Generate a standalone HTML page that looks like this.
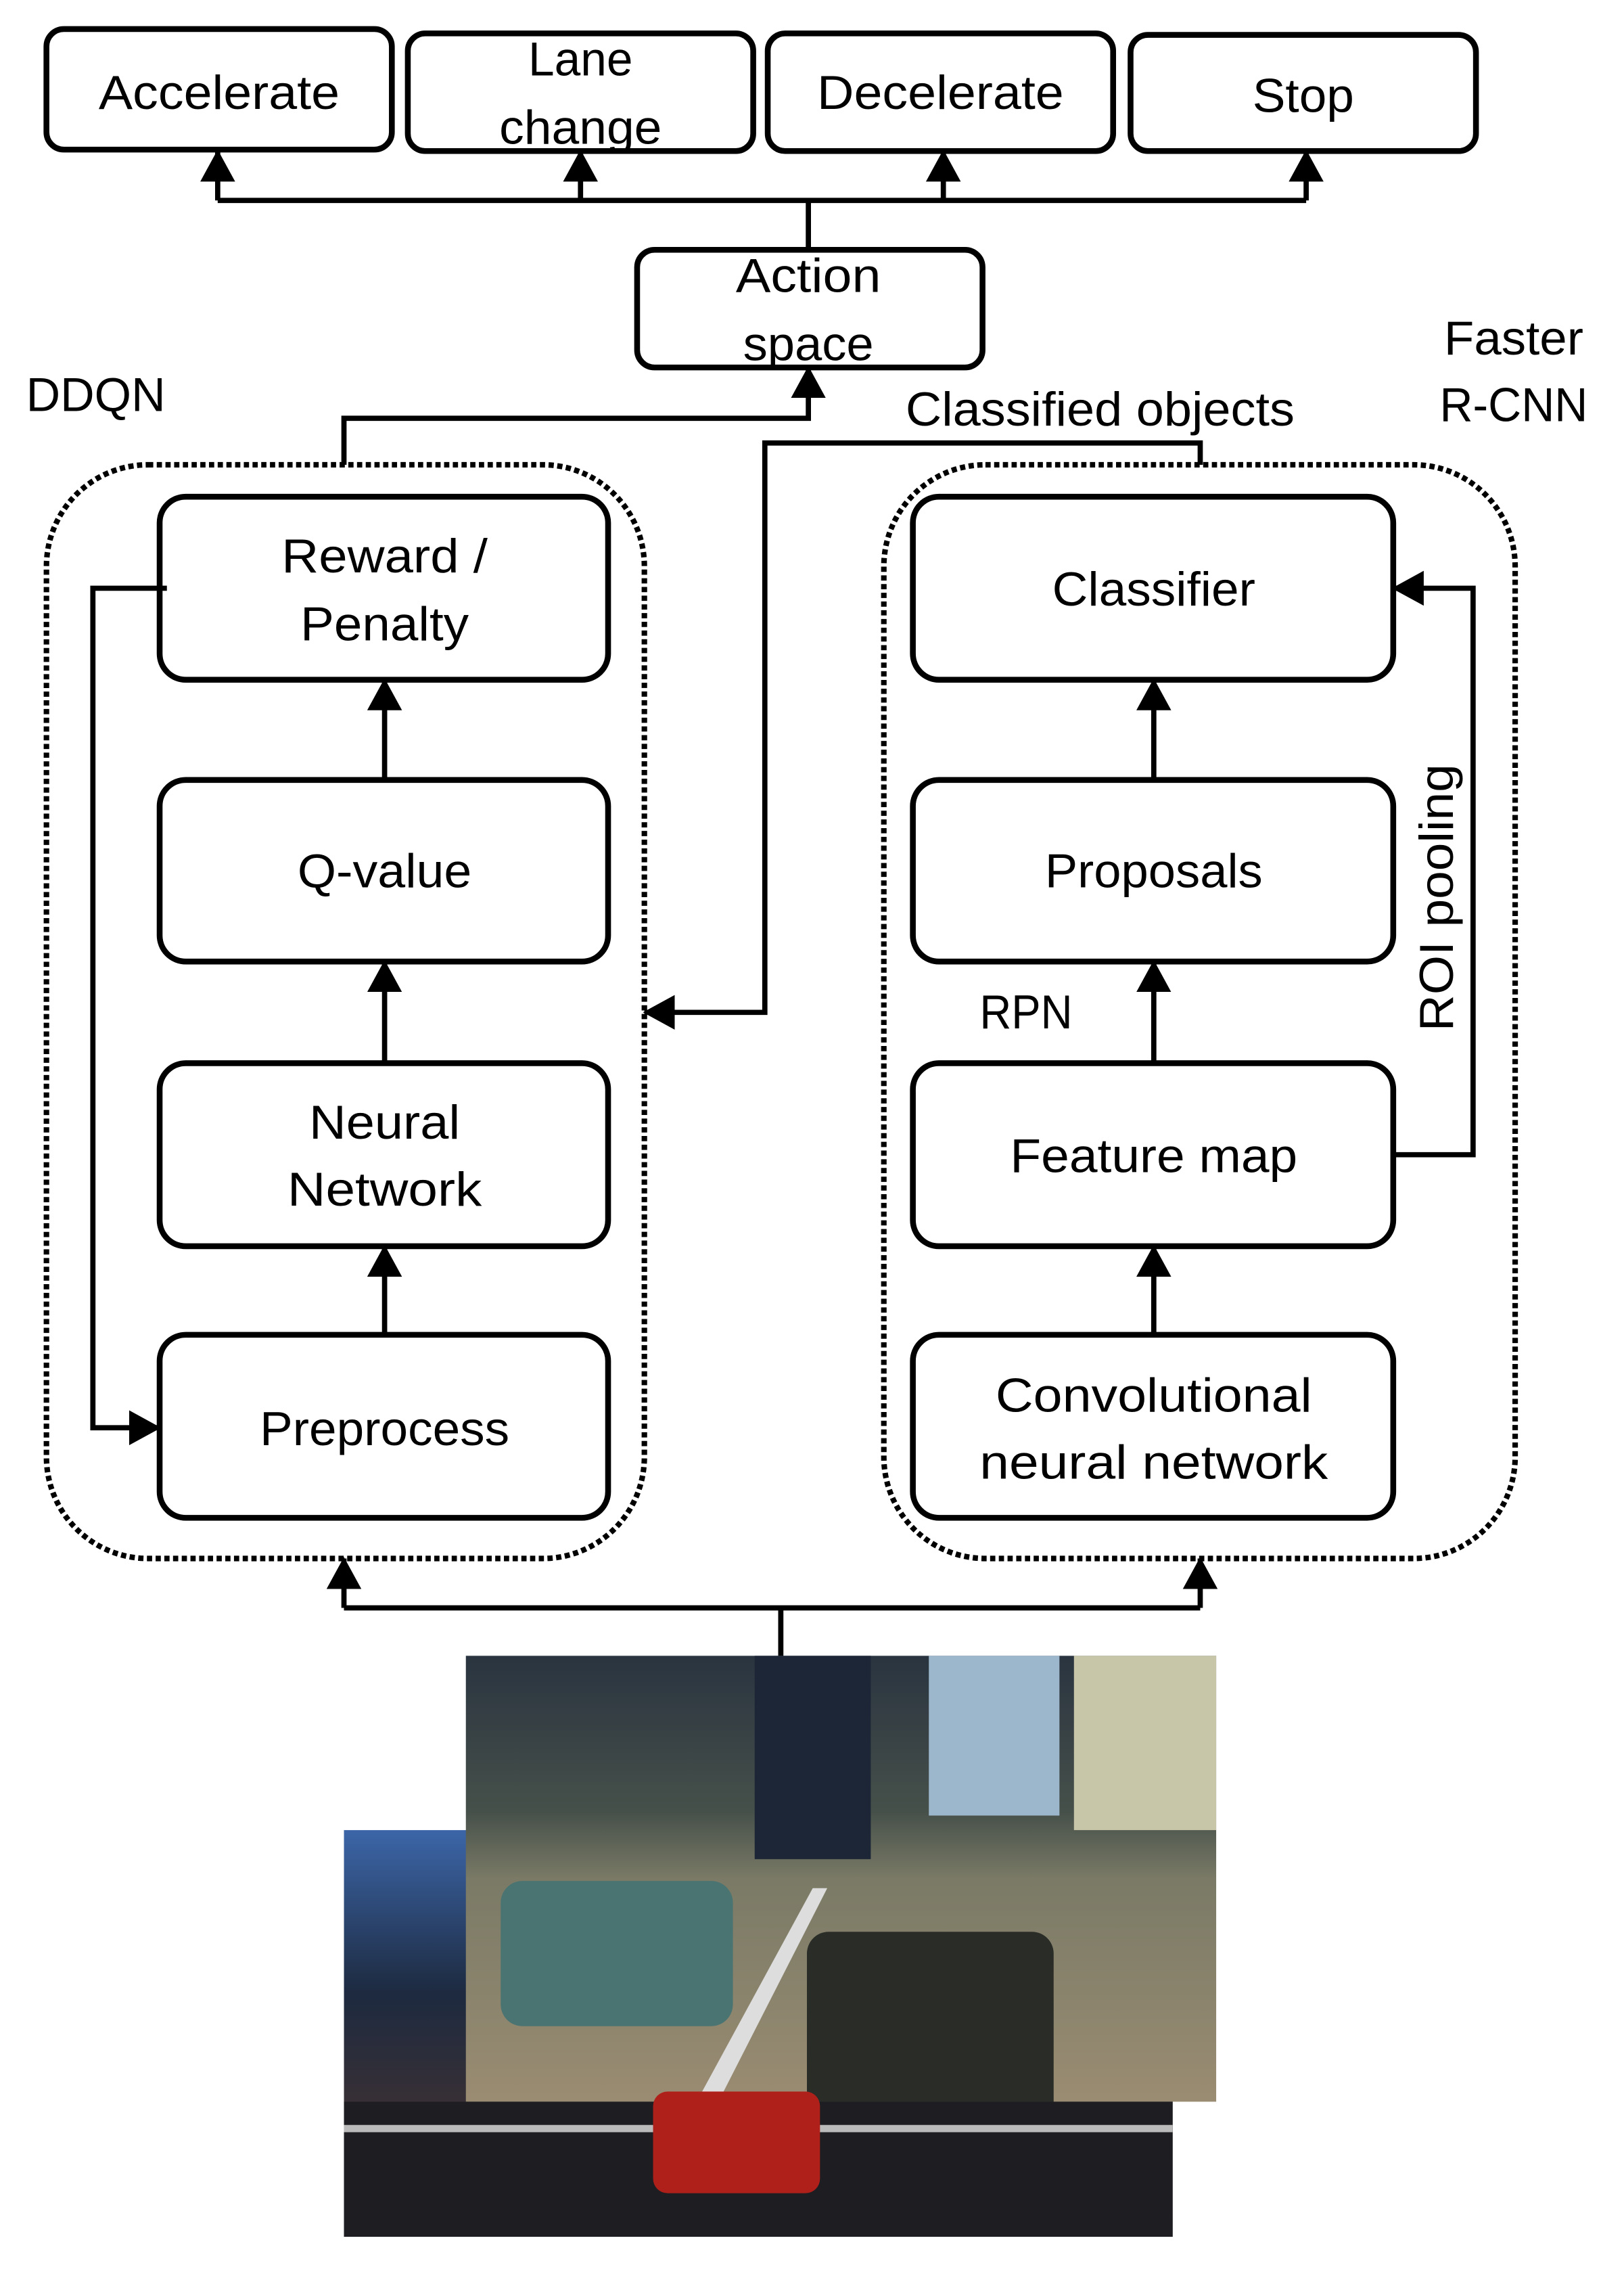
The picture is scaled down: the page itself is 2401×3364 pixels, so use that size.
<!DOCTYPE html>
<html><head><meta charset="utf-8"><style>
html,body{margin:0;padding:0;background:#fff}
svg{display:block}
text{font-family:"Liberation Sans",sans-serif;fill:#000}
</style></head><body>
<svg width="2401" height="3364" viewBox="0 0 1119 1567" preserveAspectRatio="none" xmlns="http://www.w3.org/2000/svg">
<defs>
<marker id="b" markerWidth="22" markerHeight="24" refX="21" refY="12" orient="auto" markerUnits="userSpaceOnUse">
<path d="M0,0 L22,12 L0,24 z" fill="#000"/></marker>
<linearGradient id="g1" x1="0" y1="0" x2="0" y2="1">
<stop offset="0" stop-color="#2a3440"/><stop offset="0.35" stop-color="#46504a"/><stop offset="0.5" stop-color="#7a7a66"/><stop offset="1" stop-color="#9a8c72"/></linearGradient>
<linearGradient id="g2" x1="0" y1="0" x2="0" y2="1">
<stop offset="0" stop-color="#3c66a8"/><stop offset="0.4" stop-color="#1d2a40"/><stop offset="0.7" stop-color="#3a3034"/><stop offset="1" stop-color="#202024"/></linearGradient>
</defs>
<g fill="none" stroke="#000" stroke-width="4">
<rect x="32" y="20" width="238" height="83" rx="12"/>
<rect x="281" y="23" width="238" height="81" rx="12"/>
<rect x="529" y="23" width="238" height="81" rx="12"/>
<rect x="779" y="24" width="238" height="80" rx="12"/>
<rect x="439" y="172" width="238" height="81" rx="12"/>
<rect x="110" y="342" width="309" height="126" rx="18"/>
<rect x="110" y="537" width="309" height="125" rx="18"/>
<rect x="110" y="732" width="309" height="126" rx="18"/>
<rect x="110" y="919" width="309" height="126" rx="18"/>
<rect x="629" y="342" width="331" height="126" rx="18"/>
<rect x="629" y="537" width="331" height="125" rx="18"/>
<rect x="629" y="732" width="331" height="126" rx="18"/>
<rect x="629" y="919" width="331" height="126" rx="18"/>
</g>
<g fill="none" stroke="#000" stroke-width="3.8" stroke-dasharray="3.6,2.4">
<rect x="32" y="320" width="412" height="753" rx="70"/>
<rect x="609" y="320" width="435" height="753" rx="70"/>
</g>
<g fill="none" stroke="#000" stroke-width="3.6">
<path d="M150,138 H900 M557,138 V172"/>
<path d="M150,138 V104" marker-end="url(#b)"/>
<path d="M400,138 V104" marker-end="url(#b)"/>
<path d="M650,138 V104" marker-end="url(#b)"/>
<path d="M900,138 V104" marker-end="url(#b)"/>
<path d="M237,320 V288 H557 V253" marker-end="url(#b)"/>
<path d="M827,320 V305 H527 V697 H444" marker-end="url(#b)"/>
<path d="M265,537 V468" marker-end="url(#b)"/>
<path d="M265,732 V662" marker-end="url(#b)"/>
<path d="M265,919 V858" marker-end="url(#b)"/>
<path d="M795,537 V468" marker-end="url(#b)"/>
<path d="M795,732 V662" marker-end="url(#b)"/>
<path d="M795,919 V858" marker-end="url(#b)"/>
<path d="M115,405 H64 V983 H110" marker-end="url(#b)"/>
<path d="M960,795 H1015 V405 H960" marker-end="url(#b)"/>
<path d="M538,1140 V1107 M237,1107 H827"/>
<path d="M237,1107 V1073" marker-end="url(#b)"/>
<path d="M827,1107 V1073" marker-end="url(#b)"/>
</g>
<g font-size="33" text-anchor="middle">
<text x="151" y="75" textLength="166" lengthAdjust="spacingAndGlyphs">Accelerate</text>
<text x="400" y="52" textLength="72" lengthAdjust="spacingAndGlyphs">Lane</text>
<text x="400" y="99" textLength="112" lengthAdjust="spacingAndGlyphs">change</text>
<text x="648" y="75" textLength="170" lengthAdjust="spacingAndGlyphs">Decelerate</text>
<text x="898" y="77" textLength="70" lengthAdjust="spacingAndGlyphs">Stop</text>
<text x="557" y="201" textLength="100" lengthAdjust="spacingAndGlyphs">Action</text>
<text x="557" y="248" textLength="90" lengthAdjust="spacingAndGlyphs">space</text>
<text x="265" y="394" textLength="142" lengthAdjust="spacingAndGlyphs">Reward /</text>
<text x="265" y="441" textLength="116" lengthAdjust="spacingAndGlyphs">Penalty</text>
<text x="265" y="611" textLength="120" lengthAdjust="spacingAndGlyphs">Q-value</text>
<text x="265" y="784" textLength="104" lengthAdjust="spacingAndGlyphs">Neural</text>
<text x="265" y="830" textLength="134" lengthAdjust="spacingAndGlyphs">Network</text>
<text x="265" y="995" textLength="172" lengthAdjust="spacingAndGlyphs">Preprocess</text>
<text x="795" y="417" textLength="140" lengthAdjust="spacingAndGlyphs">Classifier</text>
<text x="795" y="611" textLength="150" lengthAdjust="spacingAndGlyphs">Proposals</text>
<text x="795" y="807" textLength="198" lengthAdjust="spacingAndGlyphs">Feature map</text>
<text x="795" y="972" textLength="218" lengthAdjust="spacingAndGlyphs">Convolutional</text>
<text x="795" y="1018" textLength="240" lengthAdjust="spacingAndGlyphs">neural network</text>
<text x="1043" y="244" textLength="96" lengthAdjust="spacingAndGlyphs">Faster</text>
<text x="1043" y="290" textLength="102" lengthAdjust="spacingAndGlyphs">R-CNN</text>
<text x="758" y="293" textLength="268" lengthAdjust="spacingAndGlyphs">Classified objects</text>
<text x="66" y="283" textLength="96" lengthAdjust="spacingAndGlyphs">DDQN</text>
<text x="707" y="708" textLength="64" lengthAdjust="spacingAndGlyphs">RPN</text>
<text x="0" y="0" transform="translate(1001,618) rotate(-90)" textLength="184" lengthAdjust="spacingAndGlyphs">ROI pooling</text>
</g>
<rect x="237" y="1260" width="571" height="280" fill="url(#g2)"/>
<rect x="321" y="1140" width="517" height="307" fill="url(#g1)"/>
<rect x="740" y="1140" width="98" height="120" fill="#c8c6a8"/>
<rect x="640" y="1140" width="90" height="110" fill="#9cb6cc"/>
<rect x="520" y="1140" width="80" height="140" fill="#1c2636"/>
<rect x="345" y="1295" width="160" height="100" rx="15" fill="#4a7472"/>
<rect x="556" y="1330" width="170" height="140" rx="15" fill="#2a2c28"/>
<path d="M480,1447 L560,1300 L570,1300 L495,1447 z" fill="#ddd"/>
<rect x="237" y="1447" width="571" height="93" fill="#1e1e22"/>
<rect x="237" y="1463" width="571" height="5" fill="#bbb"/>
<rect x="450" y="1440" width="115" height="70" rx="10" fill="#b0201a"/>
</svg>
</body></html>
